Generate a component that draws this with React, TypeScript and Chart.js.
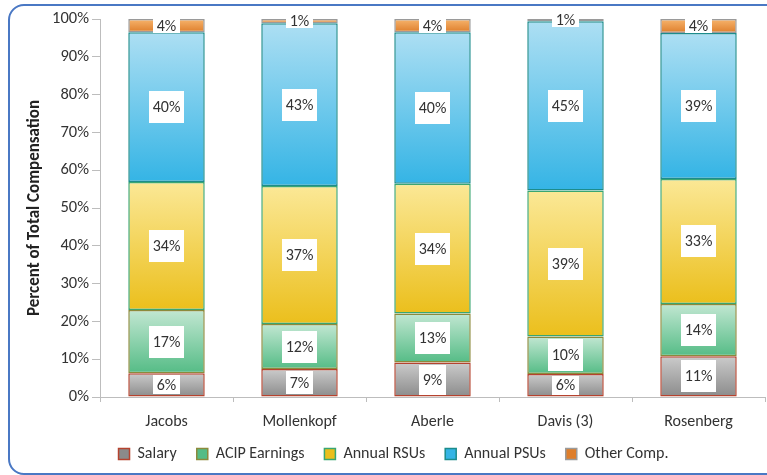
import React, { useEffect, useRef } from "react";
import { Chart, registerables } from "chart.js";

Chart.register(...registerables);

const CATEGORIES = ["Jacobs", "Mollenkopf", "Aberle", "Davis (3)", "Rosenberg"];
const SERIES_NAMES = ["Salary", "ACIP Earnings", "Annual RSUs", "Annual PSUs", "Other Comp."];
const SALARY = [6.3, 7.4, 9.1, 6.1, 10.8];
const ACIP = [16.7, 11.9, 13.0, 9.9, 13.8];
const RSUS = [33.9, 36.5, 34.3, 38.6, 33.1];
const PSUS = [39.6, 43.1, 40.1, 44.8, 38.6];
const OTHER = [3.5, 1.1, 3.5, 0.6, 3.7];
const Y_TICKS = [0, 10, 20, 30, 40, 50, 60, 70, 80, 90, 100];

const SERIES = [SALARY, ACIP, RSUS, PSUS, OTHER];
const TOP_COLORS = ["#cbcbcb", "#c2e7d2", "#fbe896", "#addff3", "#f7b56e"];
const BOTTOM_COLORS = ["#8b8b8b", "#55bc86", "#ebbf1c", "#34b4e5", "#de7e2b"];
const MID_COLORS = ["#a8a8a8", "#8fd3ad", "#f3d45a", "#6fcbec", "#ea984c"];
const BORDER_COLORS = ["#b5432f", "#8c8a3c", "#3aa672", "#1c8c8c", "#9a9a9a"];

const FONT = "Calibri, Carlito, Lato, sans-serif";

const makeBg = (dsIndex: number) => (ctx: any) => {
  if (ctx.type !== "data") return MID_COLORS[dsIndex];
  const chart = ctx.chart;
  const y = chart.scales && chart.scales.y;
  if (!y) return MID_COLORS[dsIndex];
  const ds = chart.data.datasets;
  let base = 0;
  for (let k = 0; k < dsIndex; k++) base += ds[k].data[ctx.dataIndex] as number;
  const top = base + (ds[dsIndex].data[ctx.dataIndex] as number);
  const y0 = y.getPixelForValue(top);
  const y1 = y.getPixelForValue(base);
  if (!isFinite(y0) || !isFinite(y1) || y0 === y1) return MID_COLORS[dsIndex];
  const g = chart.ctx.createLinearGradient(0, y0, 0, y1);
  g.addColorStop(0, TOP_COLORS[dsIndex]);
  g.addColorStop(1, BOTTOM_COLORS[dsIndex]);
  return g;
};

const labelPlugin = {
  id: "segLabels",
  afterLayout(chart: any) {
    // let the category labels extend below the axis box without being clipped
    const x = chart.scales.x;
    if (x) x.bottom = x.top + 40;
  },
  afterDatasetsDraw(chart: any) {
    const c = chart.ctx;
    c.save();
    c.font = `16px ${FONT}`;
    c.textAlign = "center";
    c.textBaseline = "middle";
    chart.data.datasets.forEach((ds: any, i: number) => {
      const meta = chart.getDatasetMeta(i);
      meta.data.forEach((el: any, j: number) => {
        const v = ds.data[j] as number;
        const txt = Math.round(v) + "%";
        const segH = Math.abs(el.base - el.y);
        const cy = (el.y + el.base) / 2;
        const tw = c.measureText(txt).width;
        const bw = tw + 7;
        const bh = Math.max(14, Math.min(32, segH - 4));
        c.fillStyle = "#ffffff";
        c.fillRect(Math.round(el.x - bw / 2), Math.round(cy - bh / 2), Math.round(bw), Math.round(bh));
        c.fillStyle = "#333333";
        c.fillText(txt, el.x, cy + 1);
      });
    });
    c.restore();
  },
};

export default function App() {
  const ref = useRef<HTMLCanvasElement | null>(null);
  useEffect(() => {
    if (!ref.current) return;
    const chart = new Chart(ref.current, {
      type: "bar",
      data: {
        labels: CATEGORIES,
        datasets: SERIES.map((vals, i) => ({
          label: SERIES_NAMES[i],
          data: vals,
          backgroundColor: makeBg(i),
          borderColor: BORDER_COLORS[i],
          borderWidth: 1.5,
          borderSkipped: false,
          categoryPercentage: 1,
          barPercentage: 0.575,
        })),
      },
      options: {
        responsive: false,
        animation: false,
        devicePixelRatio: 1,
        layout: { padding: { left: 22, right: 2, top: 19, bottom: 3 } },
        plugins: {
          tooltip: { enabled: false },
          legend: {
            position: "bottom",
            labels: {
              font: { family: FONT, size: 16 },
              color: "#333333",
              boxWidth: 11,
              boxHeight: 11,
              padding: 20,
            },
          },
        },
        scales: {
          x: {
            stacked: true,
            afterFit: (s: any) => {
              s.height = 29;
            },
            grid: { drawOnChartArea: false, drawTicks: true, tickLength: 5, color: "#bdbdbd" },
            border: { color: "#bdbdbd", width: 1 },
            ticks: { font: { family: FONT, size: 16 }, color: "#333333", padding: 10 },
          },
          y: {
            stacked: true,
            min: 0,
            max: 100,
            afterFit: (s: any) => {
              s.width = 78;
            },
            afterBuildTicks: (s: any) => {
              s.ticks = Y_TICKS.map((v) => ({ value: v }));
            },
            grid: { drawOnChartArea: false, drawTicks: true, tickLength: 8, color: "#bdbdbd" },
            border: { color: "#bdbdbd", width: 1 },
            ticks: {
              font: { family: FONT, size: 16.5 },
              color: "#333333",
              padding: 3,
              callback: (v: any) => v + "%",
            },
            title: {
              display: true,
              text: "Percent of Total Compensation",
              font: { family: FONT, size: 17, weight: "bold" },
              color: "#222222",
              padding: { top: 3, bottom: 0 },
            },
          },
        },
      },
      plugins: [labelPlugin],
    });
    return () => chart.destroy();
  }, []);

  return (
    <div
      style={{
        position: "fixed",
        left: 0,
        top: 0,
        width: 767,
        height: 475,
        overflow: "hidden",
        background: "#ffffff",
      }}
    >
      <div
        style={{
          position: "absolute",
          left: 8,
          top: 4,
          width: 770,
          height: 467,
          border: "2px solid #4a78c4",
          borderRadius: 16,
        }}
      />
      <canvas
        ref={ref}
        width={767}
        height={475}
        style={{ position: "absolute", left: 0, top: 0, width: 767, height: 475 }}
      />
    </div>
  );
}
